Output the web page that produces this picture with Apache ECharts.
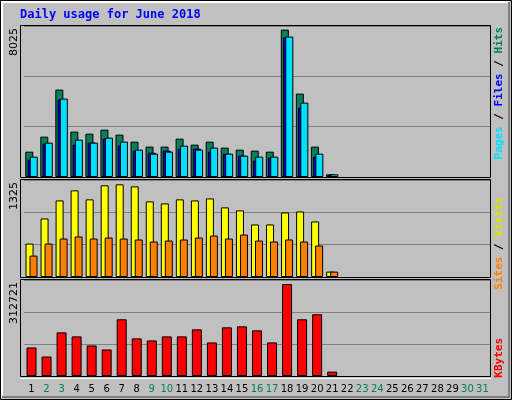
<!DOCTYPE html>
<html>
<head>
<meta charset="UTF-8">
<script src="https://cdn.jsdelivr.net/npm/echarts@6/dist/echarts.min.js"></script>
<style>
  html, body { margin: 0; padding: 0; width: 512px; height: 400px; overflow: hidden; }
  #chart { width: 512px; height: 400px; }
</style>
</head>
<body>
<div id="chart"></div>
<script>
  var days = [];
  for (var d = 1; d <= 31; d++) days.push(String(d));
  var weekend = ['2', '3', '9', '10', '16', '17', '23', '24', '30', '31'];

  var hits = [1380, 2197, 4758, 2470, 2361, 2579, 2306, 1925, 1653, 1653, 2088, 1762, 1925, 1598, 1489, 1435, 1380, 8025, 4540, 1653, 145];
  var pages = [944, 1816, 4213, 1762, 1870, 2088, 1707, 1435, 1326, 1435, 1544, 1544, 1380, 1271, 1162, 890, 1053, 7591, 3777, 1108, 127];
  var files = [1108, 1870, 4268, 2034, 1870, 2143, 1925, 1489, 1271, 1380, 1707, 1489, 1598, 1271, 1162, 1108, 1108, 7645, 4050, 1271, 145];
  var visits = [478, 837, 1095, 1239, 1110, 1311, 1325, 1296, 1081, 1052, 1110, 1095, 1124, 995, 952, 751, 751, 923, 937, 794, 77];
  var sites = [306, 478, 550, 579, 550, 564, 550, 536, 507, 521, 536, 564, 593, 550, 607, 521, 507, 536, 507, 450, 77];
  var kbytes = [97010, 66195, 148370, 134670, 103860, 90160, 192880, 127830, 120980, 134670, 134670, 158640, 114130, 165490, 168910, 155220, 114130, 312721, 192880, 210000, 14837];

  var panels = [
    { top: 26, height: 151, max: 8221, label: '8025' },
    { top: 180, height: 97, max: 1387, label: '1325' },
    { top: 280, height: 96, max: 326400, label: '312721' }
  ];

  var chart = echarts.init(document.getElementById('chart'));
  var grids = [], xAxes = [], yAxes = [], graphics = [];

  // outer bevel border
  graphics.push({ type: 'rect', shape: { x: 0.5, y: 0.5, width: 511, height: 399 }, style: { fill: null, stroke: '#000', lineWidth: 1 } });
  graphics.push({ type: 'polyline', shape: { points: [[2, 397], [2, 2], [509, 2]] }, style: { fill: null, stroke: '#fff', lineWidth: 2 } });
  graphics.push({ type: 'polyline', shape: { points: [[2, 397], [509, 397], [509, 2]] }, style: { fill: null, stroke: '#808080', lineWidth: 2 } });

  panels.forEach(function (p, i) {
    grids.push({ left: 24, right: 22, top: p.top, height: p.height });
    xAxes.push({
      type: 'category', gridIndex: i, data: days,
      axisLine: { show: false }, axisTick: { show: false },
      axisLabel: i === 2 ? {
        interval: 0, margin: 8, fontFamily: 'DejaVu Sans', fontSize: 10,
        color: function (v) { return weekend.indexOf(v) >= 0 ? '#00805C' : '#000'; }
      } : { show: false }
    });
    yAxes.push({
      type: 'value', gridIndex: i, min: 0, max: p.max, interval: p.max / 3,
      axisLabel: { show: false }, axisLine: { show: false }, axisTick: { show: false },
      splitLine: { lineStyle: { color: '#808080', width: 1 } }
    });
    graphics.push({
      type: 'rect', z: 100, shape: { x: 20.5, y: p.top - 0.5, width: 470, height: p.height + 1 },
      style: { fill: null, stroke: '#000', lineWidth: 1 }
    });
    graphics.push({
      type: 'text', rotation: Math.PI / 2, x: 9, y: p.top + 2,
      style: { text: p.label, fill: '#000', font: '11px "DejaVu Sans"', align: 'right', verticalAlign: 'top' }
    });
  });
  graphics.push({ type: 'line', shape: { x1: 20, y1: 378.5, x2: 491, y2: 378.5 }, style: { stroke: '#fff', lineWidth: 1 } });

  var mono = 'bold 11px "DejaVu Sans Mono"';
  graphics.push({
    type: 'text', x: 20, y: 9,
    style: { text: 'Daily usage for June 2018', fill: '#0000FF', font: 'bold 12px "DejaVu Sans Mono"' }
  });
  function sideLabel(y, parts) {
    var rich = {}, txt = '';
    parts.forEach(function (q, k) {
      rich['s' + k] = { fill: q[1], font: mono };
      txt += '{s' + k + '|' + q[0] + '}';
    });
    graphics.push({
      type: 'text', rotation: Math.PI / 2, x: 494, y: y,
      style: { text: txt, rich: rich, align: 'right', verticalAlign: 'top' }
    });
  }
  sideLabel(27, [['Pages', '#00E0FF'], [' / ', '#000'], ['Files', '#0000FF'], [' / ', '#000'], ['Hits', '#00805C']]);
  sideLabel(197, [['Sites', '#FF8000'], [' / ', '#000'], ['Visits', '#E0E000']]);
  sideLabel(338, [['KBytes', '#FF0000']]);

  function bar(name, data, gi, color, width, gap) {
    return {
      name: name, type: 'bar', xAxisIndex: gi, yAxisIndex: gi, data: data,
      barWidth: width, barGap: gap, animation: false,
      itemStyle: { color: color, borderColor: '#000', borderWidth: 1 }
    };
  }

  chart.setOption({
    backgroundColor: '#C0C0C0',
    grid: grids, xAxis: xAxes, yAxis: yAxes, graphic: graphics,
    series: [
      bar('Hits', hits, 0, '#00805C', 8, '-72%'),
      bar('Files', pages, 0, '#0000FF', 8, '-72%'),
      bar('Pages', files, 0, '#00E0FF', 8, '-72%'),
      bar('Visits', visits, 1, '#FFFF00', 8, '-50%'),
      bar('Sites', sites, 1, '#FF8000', 8, '-50%'),
      bar('KBytes', kbytes, 2, '#FF0000', 10, '0%')
    ]
  });
</script>
</body>
</html>
